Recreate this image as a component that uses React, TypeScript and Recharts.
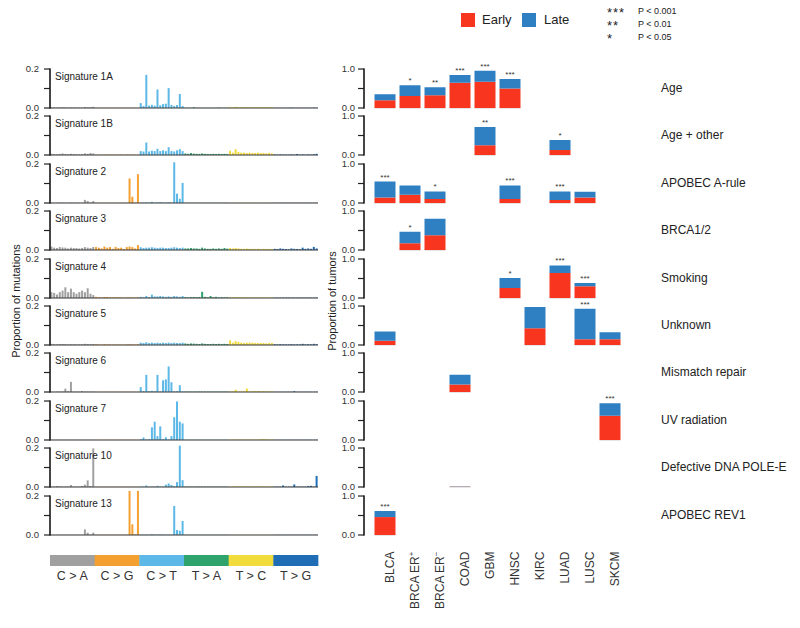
import React from 'react';
import { BarChart, Bar, XAxis, YAxis, Cell, LabelList } from 'recharts';

const MUTATION_TYPES = ['C > A', 'C > G', 'C > T', 'T > A', 'T > C', 'T > G'];
const MUTATION_COLORS = ['#a0a0a0', '#f4a030', '#5cb8e6', '#2fa36c', '#f2dc3c', '#1f6db5'];

const CANCER_TYPES = ['BLCA', 'BRCA ER+', 'BRCA ER−', 'COAD', 'GBM', 'HNSC', 'KIRC', 'LUAD', 'LUSC', 'SKCM'];
const EARLY_COLOR = '#f8361f';
const LATE_COLOR = '#2f80c2';

// 96 trinucleotide contexts: 16 per mutation type, in MUTATION_TYPES order
const sig1A = [
  0.004, 0.003, 0.002, 0.003, 0.004, 0.003, 0.002, 0.003, 0.003, 0.002, 0.002, 0.002, 0.005, 0.003, 0.004, 0.006,
  0.001, 0.001, 0.001, 0.001, 0.001, 0.001, 0.001, 0.001, 0.001, 0.001, 0.001, 0.001, 0.001, 0.001, 0.001, 0.001,
  0.025, 0.01, 0.17, 0.012, 0.016, 0.012, 0.095, 0.014, 0.02, 0.022, 0.102, 0.016, 0.01, 0.015, 0.072, 0.01,
  0.001, 0.001, 0.001, 0.004, 0.001, 0.001, 0.001, 0.001, 0.001, 0.001, 0.001, 0.001, 0.002, 0.001, 0.001, 0.001,
  0.005, 0.003, 0.006, 0.004, 0.004, 0.005, 0.004, 0.005, 0.004, 0.003, 0.005, 0.004, 0.004, 0.005, 0.004, 0.003,
  0.001, 0.001, 0.001, 0.001, 0.001, 0.001, 0.002, 0.001, 0.001, 0.001, 0.001, 0.001, 0.001, 0.001, 0.002, 0.001,
];
const sig1B = [
  0.006, 0.004, 0.003, 0.005, 0.008, 0.005, 0.004, 0.006, 0.005, 0.004, 0.003, 0.004, 0.008, 0.006, 0.01, 0.008,
  0.002, 0.002, 0.001, 0.002, 0.002, 0.002, 0.001, 0.002, 0.002, 0.002, 0.001, 0.002, 0.002, 0.002, 0.001, 0.002,
  0.02, 0.018, 0.064, 0.018, 0.022, 0.02, 0.032, 0.02, 0.024, 0.02, 0.04, 0.02, 0.018, 0.024, 0.03, 0.02,
  0.008, 0.006, 0.01, 0.007, 0.006, 0.005, 0.008, 0.006, 0.005, 0.005, 0.006, 0.005, 0.006, 0.005, 0.006, 0.005,
  0.022, 0.012, 0.03, 0.016, 0.012, 0.012, 0.01, 0.012, 0.01, 0.01, 0.012, 0.01, 0.01, 0.008, 0.01, 0.008,
  0.003, 0.002, 0.003, 0.002, 0.002, 0.002, 0.003, 0.002, 0.005, 0.002, 0.003, 0.002, 0.003, 0.002, 0.004, 0.006,
];
const sig2 = [
  0.002, 0.001, 0.001, 0.002, 0.002, 0.001, 0.001, 0.002, 0.002, 0.001, 0.001, 0.001, 0.016, 0.01, 0.002, 0.01,
  0.001, 0.001, 0.001, 0.001, 0.001, 0.001, 0.001, 0.001, 0.001, 0.001, 0.001, 0.001, 0.126, 0.032, 0.002, 0.148,
  0.002, 0.002, 0.003, 0.002, 0.006, 0.002, 0.003, 0.004, 0.002, 0.002, 0.003, 0.002, 0.209, 0.048, 0.022, 0.103,
  0.001, 0.001, 0.001, 0.001, 0.001, 0.001, 0.001, 0.001, 0.001, 0.001, 0.001, 0.001, 0.001, 0.001, 0.001, 0.001,
  0.001, 0.001, 0.001, 0.001, 0.001, 0.001, 0.001, 0.001, 0.001, 0.001, 0.001, 0.001, 0.001, 0.001, 0.001, 0.001,
  0.001, 0.001, 0.001, 0.001, 0.001, 0.001, 0.001, 0.001, 0.001, 0.001, 0.001, 0.001, 0.001, 0.001, 0.001, 0.001,
];
const sig3 = [
  0.018, 0.012, 0.01, 0.015, 0.013, 0.012, 0.008, 0.012, 0.01, 0.01, 0.008, 0.01, 0.015, 0.012, 0.01, 0.015,
  0.015, 0.012, 0.008, 0.018, 0.012, 0.015, 0.006, 0.016, 0.01, 0.012, 0.005, 0.015, 0.018, 0.015, 0.008, 0.025,
  0.014, 0.01, 0.012, 0.012, 0.014, 0.012, 0.01, 0.012, 0.012, 0.01, 0.01, 0.012, 0.014, 0.012, 0.01, 0.012,
  0.008, 0.008, 0.01, 0.008, 0.008, 0.006, 0.012, 0.008, 0.006, 0.006, 0.008, 0.006, 0.008, 0.006, 0.01, 0.007,
  0.01, 0.008, 0.01, 0.008, 0.006, 0.006, 0.007, 0.006, 0.006, 0.005, 0.006, 0.005, 0.006, 0.005, 0.006, 0.005,
  0.006, 0.005, 0.008, 0.006, 0.005, 0.004, 0.008, 0.006, 0.005, 0.004, 0.012, 0.006, 0.008, 0.006, 0.016, 0.008,
];
const sig4 = [
  0.03, 0.026, 0.018, 0.03, 0.038, 0.055, 0.03, 0.048, 0.03, 0.022, 0.03, 0.038, 0.03, 0.05, 0.022, 0.015,
  0.006, 0.004, 0.003, 0.005, 0.005, 0.004, 0.003, 0.004, 0.004, 0.003, 0.002, 0.003, 0.004, 0.003, 0.002, 0.004,
  0.006, 0.004, 0.01, 0.005, 0.017, 0.008, 0.008, 0.01, 0.008, 0.006, 0.008, 0.006, 0.01, 0.008, 0.006, 0.01,
  0.004, 0.003, 0.004, 0.005, 0.004, 0.005, 0.032, 0.006, 0.004, 0.01, 0.004, 0.006, 0.003, 0.004, 0.003, 0.004,
  0.004, 0.003, 0.005, 0.004, 0.003, 0.003, 0.003, 0.003, 0.003, 0.003, 0.003, 0.003, 0.003, 0.003, 0.003, 0.003,
  0.002, 0.002, 0.002, 0.002, 0.002, 0.002, 0.002, 0.002, 0.002, 0.002, 0.002, 0.002, 0.002, 0.002, 0.002, 0.002,
];
const sig5 = [
  0.006, 0.004, 0.003, 0.005, 0.005, 0.004, 0.003, 0.004, 0.004, 0.003, 0.003, 0.004, 0.006, 0.005, 0.004, 0.005,
  0.004, 0.003, 0.002, 0.004, 0.003, 0.003, 0.002, 0.003, 0.003, 0.002, 0.002, 0.003, 0.004, 0.003, 0.002, 0.004,
  0.012, 0.01, 0.014, 0.01, 0.012, 0.01, 0.012, 0.01, 0.012, 0.01, 0.012, 0.01, 0.012, 0.01, 0.01, 0.012,
  0.008, 0.006, 0.008, 0.007, 0.006, 0.005, 0.008, 0.006, 0.005, 0.005, 0.006, 0.005, 0.006, 0.005, 0.006, 0.005,
  0.024, 0.012, 0.02, 0.016, 0.012, 0.01, 0.012, 0.012, 0.012, 0.01, 0.01, 0.01, 0.01, 0.008, 0.01, 0.01,
  0.004, 0.003, 0.004, 0.003, 0.003, 0.003, 0.004, 0.003, 0.003, 0.003, 0.006, 0.003, 0.004, 0.003, 0.006, 0.004,
];
const sig6 = [
  0.001, 0.001, 0.002, 0.002, 0.003, 0.017, 0.004, 0.052, 0.002, 0.002, 0.002, 0.005, 0.002, 0.002, 0.002, 0.002,
  0.001, 0.001, 0.001, 0.001, 0.001, 0.001, 0.001, 0.001, 0.001, 0.001, 0.001, 0.001, 0.001, 0.001, 0.001, 0.001,
  0.025, 0.004, 0.088, 0.004, 0.006, 0.004, 0.088, 0.003, 0.06, 0.065, 0.131, 0.05, 0.003, 0.004, 0.035, 0.003,
  0.002, 0.002, 0.002, 0.002, 0.002, 0.002, 0.002, 0.002, 0.002, 0.002, 0.002, 0.002, 0.002, 0.002, 0.002, 0.002,
  0.003, 0.003, 0.012, 0.003, 0.003, 0.003, 0.018, 0.003, 0.005, 0.004, 0.005, 0.004, 0.005, 0.004, 0.003, 0.003,
  0.001, 0.001, 0.001, 0.001, 0.001, 0.001, 0.001, 0.004, 0.001, 0.001, 0.001, 0.001, 0.001, 0.001, 0.001, 0.001,
];
const sig7 = [
  0.001, 0.001, 0.001, 0.001, 0.001, 0.001, 0.001, 0.001, 0.001, 0.001, 0.001, 0.001, 0.001, 0.001, 0.001, 0.001,
  0.001, 0.001, 0.001, 0.001, 0.001, 0.001, 0.001, 0.001, 0.001, 0.001, 0.001, 0.001, 0.001, 0.001, 0.001, 0.001,
  0.004, 0.013, 0.003, 0.004, 0.065, 0.094, 0.02, 0.07, 0.004, 0.014, 0.003, 0.02, 0.117, 0.198, 0.094, 0.085,
  0.001, 0.001, 0.001, 0.001, 0.001, 0.001, 0.001, 0.001, 0.001, 0.001, 0.001, 0.001, 0.001, 0.001, 0.001, 0.001,
  0.002, 0.002, 0.002, 0.002, 0.002, 0.002, 0.002, 0.002, 0.002, 0.002, 0.003, 0.004, 0.004, 0.004, 0.003, 0.002,
  0.001, 0.001, 0.001, 0.001, 0.001, 0.001, 0.001, 0.001, 0.001, 0.001, 0.001, 0.001, 0.001, 0.001, 0.001, 0.001,
];
const sig10 = [
  0.002, 0.002, 0.005, 0.003, 0.002, 0.002, 0.002, 0.01, 0.002, 0.002, 0.002, 0.005, 0.012, 0.034, 0.005, 0.198,
  0.001, 0.001, 0.001, 0.001, 0.001, 0.001, 0.001, 0.001, 0.001, 0.001, 0.001, 0.001, 0.001, 0.001, 0.001, 0.001,
  0.002, 0.002, 0.008, 0.002, 0.002, 0.002, 0.006, 0.002, 0.002, 0.012, 0.018, 0.01, 0.004, 0.025, 0.212, 0.035,
  0.002, 0.002, 0.002, 0.002, 0.002, 0.002, 0.002, 0.002, 0.002, 0.002, 0.002, 0.002, 0.002, 0.002, 0.002, 0.002,
  0.003, 0.003, 0.004, 0.003, 0.003, 0.003, 0.004, 0.003, 0.003, 0.003, 0.004, 0.003, 0.003, 0.003, 0.003, 0.003,
  0.002, 0.002, 0.002, 0.008, 0.002, 0.002, 0.002, 0.013, 0.002, 0.002, 0.002, 0.002, 0.005, 0.006, 0.002, 0.057,
];
const sig13 = [
  0.001, 0.001, 0.001, 0.001, 0.001, 0.001, 0.001, 0.001, 0.001, 0.001, 0.001, 0.001, 0.029, 0.012, 0.002, 0.012,
  0.001, 0.001, 0.001, 0.001, 0.001, 0.001, 0.001, 0.001, 0.001, 0.001, 0.001, 0.001, 0.226, 0.055, 0.003, 0.226,
  0.002, 0.002, 0.002, 0.002, 0.004, 0.002, 0.002, 0.003, 0.002, 0.002, 0.002, 0.002, 0.149, 0.026, 0.022, 0.072,
  0.001, 0.001, 0.001, 0.001, 0.001, 0.001, 0.001, 0.001, 0.001, 0.001, 0.001, 0.001, 0.001, 0.001, 0.001, 0.001,
  0.001, 0.001, 0.001, 0.001, 0.001, 0.001, 0.001, 0.001, 0.001, 0.001, 0.001, 0.001, 0.001, 0.001, 0.001, 0.001,
  0.001, 0.001, 0.001, 0.001, 0.001, 0.001, 0.001, 0.001, 0.001, 0.001, 0.001, 0.001, 0.001, 0.001, 0.001, 0.001,
];

const SIGNATURE_ROWS = [
  { name: 'Signature 1A', values: sig1A },
  { name: 'Signature 1B', values: sig1B },
  { name: 'Signature 2', values: sig2 },
  { name: 'Signature 3', values: sig3 },
  { name: 'Signature 4', values: sig4 },
  { name: 'Signature 5', values: sig5 },
  { name: 'Signature 6', values: sig6 },
  { name: 'Signature 7', values: sig7 },
  { name: 'Signature 10', values: sig10 },
  { name: 'Signature 13', values: sig13 },
];

// proportion of tumours per cancer type (CANCER_TYPES order)
const ageEarly = [0.198, 0.31, 0.328, 0.647, 0.672, 0.5, 0, 0, 0, 0];
const ageLate = [0.155, 0.276, 0.206, 0.198, 0.285, 0.241, 0, 0, 0, 0];
const ageStars = ['', '*', '**', '***', '***', '***', '', '', '', ''];
const ageOtherEarly = [0, 0, 0, 0, 0.248, 0, 0, 0.128, 0, 0];
const ageOtherLate = [0, 0, 0, 0, 0.47, 0, 0, 0.257, 0, 0];
const ageOtherStars = ['', '', '', '', '**', '', '', '*', '', ''];
const apobecEarly = [0.144, 0.21, 0.1, 0, 0, 0.1, 0, 0.076, 0.144, 0];
const apobecLate = [0.406, 0.24, 0.197, 0, 0, 0.35, 0, 0.221, 0.146, 0];
const apobecStars = ['***', '', '*', '', '', '***', '', '***', '', ''];
const brcaEarly = [0, 0.17, 0.376, 0, 0, 0, 0, 0, 0, 0];
const brcaLate = [0, 0.3, 0.424, 0, 0, 0, 0, 0, 0, 0];
const brcaStars = ['', '*', '', '', '', '', '', '', '', ''];
const smokingEarly = [0, 0, 0, 0, 0, 0.256, 0, 0.64, 0.3, 0];
const smokingLate = [0, 0, 0, 0, 0, 0.257, 0, 0.196, 0.085, 0];
const smokingStars = ['', '', '', '', '', '*', '', '***', '***', ''];
const unknownEarly = [0.11, 0, 0, 0, 0, 0, 0.43, 0, 0.15, 0.15];
const unknownLate = [0.237, 0, 0, 0, 0, 0, 0.545, 0, 0.78, 0.18];
const unknownStars = ['', '', '', '', '', '', '', '', '***', ''];
const mmrEarly = [0, 0, 0, 0.19, 0, 0, 0, 0, 0, 0];
const mmrLate = [0, 0, 0, 0.25, 0, 0, 0, 0, 0, 0];
const mmrStars = ['', '', '', '', '', '', '', '', '', ''];
const uvEarly = [0, 0, 0, 0, 0, 0, 0, 0, 0, 0.62];
const uvLate = [0, 0, 0, 0, 0, 0, 0, 0, 0, 0.32];
const uvStars = ['', '', '', '', '', '', '', '', '', '***'];
const poleEarly = [0, 0, 0, 0.008, 0, 0, 0, 0, 0, 0];
const poleLate = [0, 0, 0, 0.008, 0, 0, 0, 0, 0, 0];
const poleStars = ['', '', '', '', '', '', '', '', '', ''];
const rev1Early = [0.46, 0, 0, 0, 0, 0, 0, 0, 0, 0];
const rev1Late = [0.155, 0, 0, 0, 0, 0, 0, 0, 0, 0];
const rev1Stars = ['***', '', '', '', '', '', '', '', '', ''];

const PROCESS_ROWS = [
  { label: 'Age', early: ageEarly, late: ageLate, stars: ageStars },
  { label: 'Age + other', early: ageOtherEarly, late: ageOtherLate, stars: ageOtherStars },
  { label: 'APOBEC A-rule', early: apobecEarly, late: apobecLate, stars: apobecStars },
  { label: 'BRCA1/2', early: brcaEarly, late: brcaLate, stars: brcaStars },
  { label: 'Smoking', early: smokingEarly, late: smokingLate, stars: smokingStars },
  { label: 'Unknown', early: unknownEarly, late: unknownLate, stars: unknownStars },
  { label: 'Mismatch repair', early: mmrEarly, late: mmrLate, stars: mmrStars },
  { label: 'UV radiation', early: uvEarly, late: uvLate, stars: uvStars },
  { label: 'Defective DNA POLE-E', early: poleEarly, late: poleLate, stars: poleStars },
  { label: 'APOBEC REV1', early: rev1Early, late: rev1Late, stars: rev1Stars },
];

const P_LEGEND = [
  { stars: '***', text: 'P < 0.001' },
  { stars: '**', text: 'P < 0.01' },
  { stars: '*', text: 'P < 0.05' },
];

// layout
const FIRST_BASELINE = 108;
const ROW_STEP = 47.4;
const UNIT_PX = 39; // height of 0.2 (left) and 1.0 (right)
const AXIS = '#222';

function YTick(props: any) {
  const { y, payload, axisX, top, gap } = props;
  const v = payload.value;
  const label = v === 0 ? '0.0' : v === top ? top.toFixed(1) : '';
  return (
    <g>
      <line x1={axisX - 6} x2={axisX} y1={y} y2={y} stroke={AXIS} strokeWidth={1.2} />
      {v === 0 && <line x1={axisX} x2={axisX} y1={y + 0.6} y2={y - UNIT_PX - 0.6} stroke={AXIS} strokeWidth={1.2} />}
      {v === top && <line x1={axisX} x2={axisX} y1={y - 0.6} y2={y + UNIT_PX + 0.6} stroke={AXIS} strokeWidth={1.2} />}
      {label && (
        <text x={axisX - gap} y={y} dy="0.36em" textAnchor="end" fontSize={9.5} fill="#333">
          {label}
        </text>
      )}
    </g>
  );
}

function CancerTick(props: any) {
  const { x, y, payload } = props;
  const name: string = payload.value;
  const sup = name.endsWith('+') || name.endsWith('−') ? name.slice(-1) : '';
  const base = sup ? name.slice(0, -1) : name;
  const ty = y + 8.6;
  return (
    <text x={x} y={ty} dy={8.8} transform={`rotate(-90 ${x} ${ty})`} textAnchor="end" fontSize={12} fill="#333">
      {base}
      {sup && <tspan dy={-5} fontSize={8}>{sup}</tspan>}
    </text>
  );
}

function BaseLine(props: any) {
  const { x, y, width, height } = props;
  return <line x1={x} x2={x + width} y1={y + height} y2={y + height} stroke="#d4d4d4" strokeWidth={1.2} />;
}

function SignatureRow({ name, values, index }: { name: string; values: number[]; index: number }) {
  const data = values.map((v, i) => ({ ctx: String(i), value: v }));
  const baseline = FIRST_BASELINE + ROW_STEP * index;
  return (
    <div style={{ position: 'absolute', left: 0, top: baseline - 47 }}>
      <BarChart width={320} height={48} data={data} margin={{ top: 1, right: 2, bottom: 0, left: 0 }} barCategoryGap="14%">
        <XAxis dataKey="ctx" tick={false} tickLine={false} axisLine={{ stroke: '#333', strokeWidth: 1.2 }} height={1} />
        <YAxis
          type="number"
          domain={[0, 0.236]}
          ticks={[0, 0.1, 0.2]}
          interval={0}
          width={50}
          axisLine={false}
          tickLine={false}
          allowDataOverflow
          tick={(p: any) => <YTick {...p} axisX={50} top={0.2} gap={11} />}
        />
        <Bar dataKey="value" isAnimationActive={false}>
          {data.map((d, i) => (
            <Cell key={d.ctx} fill={MUTATION_COLORS[Math.floor(i / 16)]} />
          ))}
        </Bar>
      </BarChart>
      <div style={{ position: 'absolute', left: 55, top: 10, fontSize: 10, lineHeight: '12px', color: '#222', whiteSpace: 'nowrap' }}>
        {name}
      </div>
    </div>
  );
}

function ProcessRow({ row, index, last }: { row: any; index: number; last: boolean }) {
  const data = CANCER_TYPES.map((c, i) => ({ name: c, early: row.early[i], late: row.late[i], stars: row.stars[i] }));
  const baseline = FIRST_BASELINE + ROW_STEP * index;
  const xh = last ? 75 : 1;
  return (
    <>
      <div style={{ position: 'absolute', left: 300, top: baseline - 47 }}>
        <BarChart width={324} height={47 + xh} data={data} margin={{ top: 1, right: 1.5, bottom: 0, left: 0 }}>
          <XAxis dataKey="name" height={xh} axisLine={false} tickLine={false} interval={0} tick={last ? <CancerTick /> : false} />
          <YAxis
            type="number"
            domain={[0, 1.18]}
            ticks={[0, 0.5, 1]}
            interval={0}
            width={72.5}
            axisLine={false}
            tickLine={false}
            allowDataOverflow
            tick={(p: any) => <YTick {...p} axisX={64} top={1} gap={9} />}
          />
          <Bar dataKey="early" stackId="t" fill={EARLY_COLOR} barSize={21} background={<BaseLine />} isAnimationActive={false} />
          <Bar dataKey="late" stackId="t" fill={LATE_COLOR} barSize={21} isAnimationActive={false}>
            <LabelList dataKey="stars" position="top" offset={2} fontSize={8} fill="#333" />
          </Bar>
        </BarChart>
      </div>
      <div style={{ position: 'absolute', left: 661, top: baseline - 27, fontSize: 12, lineHeight: '14px', color: '#222', whiteSpace: 'nowrap' }}>
        {row.label}
      </div>
    </>
  );
}

const bandData = MUTATION_TYPES.map((t) => ({ type: t, value: 1 }));

export default function App() {
  return (
    <div
      style={{
        position: 'absolute',
        left: 0,
        top: 0,
        width: 800,
        height: 628,
        background: '#fff',
        fontFamily: '"Liberation Sans", Arial, Helvetica, sans-serif',
        color: '#222',
      }}
    >
      <style>{'svg.recharts-surface { overflow: visible; }'}</style>

      {/* legend */}
      <div style={{ position: 'absolute', left: 461, top: 13, width: 14, height: 14, background: EARLY_COLOR }} />
      <div style={{ position: 'absolute', left: 482, top: 12, fontSize: 13, lineHeight: '16px' }}>Early</div>
      <div style={{ position: 'absolute', left: 522, top: 13, width: 14, height: 14, background: LATE_COLOR }} />
      <div style={{ position: 'absolute', left: 544, top: 12, fontSize: 13, lineHeight: '16px' }}>Late</div>
      {P_LEGEND.map((p, i) => (
        <React.Fragment key={p.text}>
          <div style={{ position: 'absolute', left: 607, top: 6 + i * 12.8, fontSize: 13, lineHeight: '14px', letterSpacing: 1 }}>{p.stars}</div>
          <div style={{ position: 'absolute', left: 638, top: 5 + i * 12.8, fontSize: 9, lineHeight: '12px' }}>{p.text}</div>
        </React.Fragment>
      ))}

      {/* axis titles */}
      <div
        style={{
          position: 'absolute',
          left: 16,
          top: 301,
          fontSize: 11,
          whiteSpace: 'nowrap',
          transform: 'translate(-50%, -50%) rotate(-90deg)',
        }}
      >
        Proportion of mutations
      </div>
      <div
        style={{
          position: 'absolute',
          left: 332,
          top: 301,
          fontSize: 11,
          whiteSpace: 'nowrap',
          transform: 'translate(-50%, -50%) rotate(-90deg)',
        }}
      >
        Proportion of tumors
      </div>

      {SIGNATURE_ROWS.map((s, i) => (
        <SignatureRow key={s.name} name={s.name} values={s.values} index={i} />
      ))}

      {PROCESS_ROWS.map((r, i) => (
        <ProcessRow key={r.label} row={r} index={i} last={i === PROCESS_ROWS.length - 1} />
      ))}

      {/* mutation type colour key */}
      <div style={{ position: 'absolute', left: 0, top: 555 }}>
        <BarChart width={320} height={40} data={bandData} margin={{ top: 0, right: 2, bottom: 0, left: 50 }} barCategoryGap={0}>
          <XAxis
            dataKey="type"
            height={29}
            axisLine={false}
            tickLine={false}
            tickSize={3}
            tickMargin={2}
            interval={0}
            tick={{ fontSize: 12.5, fill: '#333' }}
          />
          <YAxis hide domain={[0, 1]} />
          <Bar dataKey="value" isAnimationActive={false}>
            {bandData.map((d, i) => (
              <Cell key={d.type} fill={MUTATION_COLORS[i]} />
            ))}
          </Bar>
        </BarChart>
      </div>
    </div>
  );
}
